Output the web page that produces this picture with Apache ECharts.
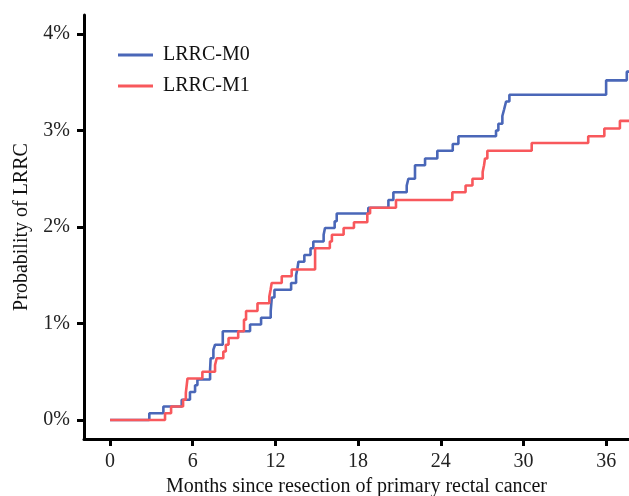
<!DOCTYPE html>
<html>
<head>
<meta charset="utf-8">
<title>Probability of LRRC</title>
<script src="https://cdn.jsdelivr.net/npm/echarts@6/dist/echarts.min.js"></script>
<style>
    html, body { margin: 0; padding: 0; background: #fff; }
    #main { width: 629px; height: 496px; }
</style>
</head>
<body>
<div id="main"></div>
<script>
    // cumulative probability (%), step at each event time
    var m0Months = [0, 2.85, 3.87, 5.2, 5.8, 6.17, 6.34, 7.26, 7.3, 7.5, 7.62, 8.18, 10.16, 10.96, 11.66, 11.7, 11.74, 11.93,
        13.14, 13.5, 13.6, 13.67, 14.1, 14.55, 14.75, 15.5, 15.6, 16.3, 16.45, 18.74, 20.2, 20.56, 21.53, 21.65,
        22.13, 22.86, 23.75, 24.87, 25.28, 28.01, 28.18, 28.47, 28.6, 28.74, 28.98, 36.0, 37.5, 37.7];
    var m0Prob = [0, 0.07, 0.14, 0.21, 0.29, 0.36, 0.42, 0.52, 0.64, 0.73, 0.78, 0.92, 0.99, 1.06, 1.13, 1.2, 1.27, 1.35,
        1.42, 1.5, 1.57, 1.64, 1.71, 1.78, 1.85, 1.92, 1.99, 2.06, 2.14, 2.2, 2.28, 2.36, 2.43, 2.5,
        2.64, 2.71, 2.79, 2.86, 2.94, 3.0, 3.07, 3.15, 3.22, 3.3, 3.37, 3.52, 3.61, 3.61];

    var m1Months = [0, 3.99, 4.43, 5.3, 5.5, 5.62, 6.7, 7.62, 7.74, 8.22, 8.4, 8.6, 9.3, 9.72, 9.87, 10.7, 11.56, 11.65, 11.73,
        12.46, 13.18, 14.88, 15.95, 16.1, 16.95, 17.7, 18.67, 18.87, 20.75, 24.84, 25.8, 26.3, 27.04, 27.14, 27.21, 27.38,
        30.6, 34.7, 35.87, 37.0, 37.7];
    var m1Prob = [0, 0.07, 0.14, 0.21, 0.28, 0.43, 0.5, 0.57, 0.64, 0.71, 0.78, 0.85, 0.92, 1.04, 1.13, 1.21, 1.28, 1.35, 1.42,
        1.49, 1.56, 1.78, 1.85, 1.92, 1.99, 2.05, 2.14, 2.2, 2.28, 2.36, 2.43, 2.5, 2.57, 2.64, 2.71, 2.79,
        2.87, 2.94, 3.02, 3.1, 3.1];

    var xTicks = [0, 6, 12, 18, 24, 30, 36];
    var yTicks = [0, 1, 2, 3, 4];

    function pairs(xs, ys) {
        var out = [];
        for (var i = 0; i < xs.length; i++) {
            out.push([xs[i], ys[i]]);
        }
        return out;
    }

    var font = 'Liberation Serif';
    var chart = echarts.init(document.getElementById('main'));

    var option = {
        animation: false,
        backgroundColor: '#fff',
        grid: {
            left: 84,
            right: 0,
            top: 15,
            bottom: 57,
            outerBoundsMode: 'none'
        },
        legend: {
            orient: 'vertical',
            left: 113,
            top: 40,
            icon: 'rect',
            itemWidth: 35,
            itemHeight: 3,
            itemGap: 11,
            textStyle: { fontFamily: font, fontSize: 20, color: '#111', padding: [0, 0, 0, 5] },
            data: ['LRRC-M0', 'LRRC-M1']
        },
        xAxis: {
            type: 'value',
            min: -1.89,
            max: 37.66,
            name: 'Months since resection of primary rectal cancer',
            nameLocation: 'middle',
            nameGap: 36,
            nameTextStyle: { fontFamily: font, fontSize: 20, color: '#111' },
            splitLine: { show: false },
            axisLine: { onZero: false, lineStyle: { color: '#000', width: 3 } },
            axisTick: { length: 7, lineStyle: { color: '#000', width: 3 }, customValues: xTicks },
            axisLabel: {
                customValues: xTicks,
                margin: 13,
                fontFamily: font, fontSize: 20, color: '#222'
            }
        },
        yAxis: {
            type: 'value',
            min: -0.197,
            max: 4.197,
            name: 'Probability of LRRC',
            nameLocation: 'middle',
            nameGap: 52,
            nameTextStyle: { fontFamily: font, fontSize: 20, color: '#111' },
            splitLine: { show: false },
            axisLine: { show: true, onZero: false, lineStyle: { color: '#000', width: 3 } },
            axisTick: { show: true, length: 7, lineStyle: { color: '#000', width: 3 }, customValues: yTicks },
            axisLabel: {
                customValues: yTicks,
                margin: 14,
                fontFamily: font, fontSize: 20, color: '#222',
                formatter: function (v) { return v + '%'; }
            }
        },
        series: [
            {
                name: 'LRRC-M0',
                type: 'line',
                step: 'end',
                symbol: 'none',
                lineStyle: { color: '#4a67b8', width: 2.6 },
                itemStyle: { color: '#4a67b8' },
                data: pairs(m0Months, m0Prob)
            },
            {
                name: 'LRRC-M1',
                type: 'line',
                step: 'end',
                symbol: 'none',
                lineStyle: { color: '#f8585c', width: 2.6 },
                itemStyle: { color: '#f8585c' },
                data: pairs(m1Months, m1Prob)
            }
        ]
    };
    chart.setOption(option);
</script>
</body>
</html>
